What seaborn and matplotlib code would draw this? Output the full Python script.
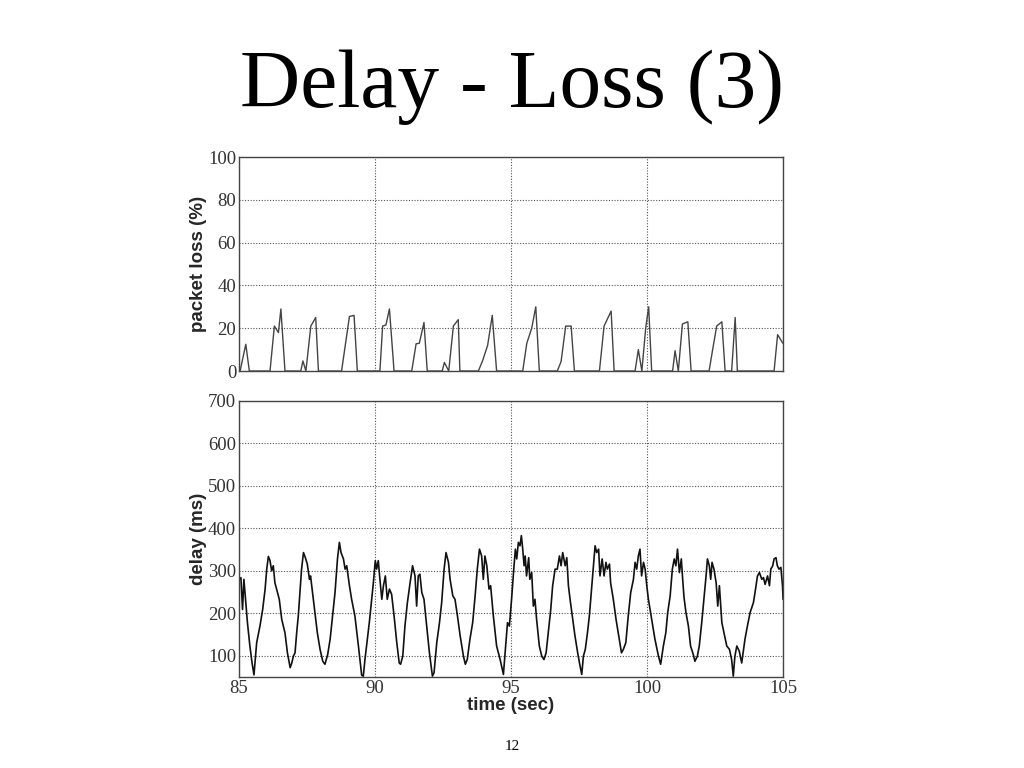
import numpy as np
import pandas as pd
import matplotlib.pyplot as plt
import seaborn as sns


TITLE = "Delay - Loss (3)"
PAGE_NUMBER = "12"

# packet loss (%) per time, one line per loss burst
loss_time = [
    85.00, 85.04, 85.25, 85.38,
    86.14, 86.30, 86.45, 86.54, 86.69,
    87.27, 87.35, 87.46, 87.64, 87.82, 87.92,
    88.77, 89.06, 89.23, 89.35,
    90.18, 90.28, 90.40, 90.53, 90.70,
    91.35, 91.51, 91.63, 91.80, 91.92,
    92.47, 92.55, 92.71, 92.88, 93.06, 93.12,
    93.80, 93.96, 94.14, 94.31, 94.47,
    95.43, 95.58, 95.76, 95.91, 96.04,
    96.70, 96.84, 97.01, 97.21, 97.33,
    98.25, 98.42, 98.68, 98.79,
    99.56, 99.68, 99.81, 99.95, 100.06, 100.17,
    100.94, 101.03, 101.15, 101.30, 101.50, 101.62,
    102.28, 102.42, 102.56, 102.75, 102.87,
    103.11, 103.24, 103.32,
    104.67, 104.80, 104.99,
]
loss_pct = [
    0, 0, 12.5, 0,
    0, 21, 18, 29, 0,
    0, 4.7, 0, 21, 25, 0,
    0, 25.5, 26, 0,
    0, 21, 21.5, 29, 0,
    0, 12.7, 13, 22.7, 0,
    0, 4, 0, 21, 24, 0,
    0, 5, 12, 26, 0,
    0, 13, 20, 30, 0,
    0, 4.4, 21, 21, 0,
    0, 21, 28, 0,
    0, 10, 0, 20, 30, 0,
    0, 9.5, 0, 22, 23, 0,
    0, 10.6, 21, 23, 0,
    0, 25, 0,
    0, 17, 13,
]

# delay (ms) per time
delay_time = [
    85.01, 85.07, 85.13, 85.18, 85.23, 85.31, 85.40, 85.48, 85.55, 85.65,
    85.77, 85.87, 85.96, 86.02, 86.08, 86.14, 86.20, 86.26, 86.32, 86.38,
    86.48, 86.57, 86.69, 86.78, 86.88, 86.94, 87.00, 87.06, 87.12, 87.18,
    87.24, 87.30, 87.37, 87.44, 87.51, 87.59, 87.63, 87.71, 87.79, 87.88,
    87.98, 88.08, 88.16, 88.26, 88.35, 88.44, 88.53, 88.62, 88.69, 88.75,
    88.84, 88.90, 88.96, 89.06, 89.14, 89.26, 89.39, 89.51, 89.57, 89.63,
    89.69, 89.79, 89.88, 89.94, 90.01, 90.06, 90.12, 90.18, 90.25, 90.31,
    90.38, 90.45, 90.53, 90.61, 90.70, 90.80, 90.89, 90.94, 91.02, 91.10,
    91.19, 91.29, 91.38, 91.47, 91.53, 91.59, 91.65, 91.72, 91.80, 91.90,
    92.00, 92.11, 92.17, 92.27, 92.37, 92.45, 92.54, 92.61, 92.70, 92.76,
    92.86, 92.94, 93.03, 93.13, 93.25, 93.32, 93.39, 93.49, 93.59, 93.68,
    93.76, 93.84, 93.92, 93.98, 94.04, 94.11, 94.19, 94.25, 94.35, 94.47,
    94.60, 94.72, 94.82, 94.87, 94.94, 95.02, 95.11, 95.16, 95.21, 95.27,
    95.33, 95.38, 95.43, 95.48, 95.52, 95.57, 95.65, 95.69, 95.76, 95.82,
    95.88, 95.94, 96.04, 96.13, 96.21, 96.29, 96.37, 96.46, 96.53, 96.62,
    96.70, 96.78, 96.84, 96.90, 96.99, 97.05, 97.11, 97.17, 97.27, 97.35,
    97.45, 97.54, 97.60, 97.66, 97.73, 97.81, 97.88, 97.97, 98.03, 98.09,
    98.15, 98.22, 98.27, 98.35, 98.42, 98.49, 98.54, 98.62, 98.66, 98.76,
    98.86, 98.96, 99.06, 99.13, 99.22, 99.31, 99.40, 99.50, 99.56, 99.62,
    99.68, 99.74, 99.80, 99.87, 99.93, 99.99, 100.05, 100.17, 100.29, 100.42,
    100.50, 100.60, 100.69, 100.76, 100.85, 100.93, 101.00, 101.06, 101.12, 101.19,
    101.26, 101.31, 101.36, 101.43, 101.52, 101.60, 101.70, 101.76, 101.85, 101.92,
    102.01, 102.10, 102.17, 102.22, 102.29, 102.34, 102.39, 102.46, 102.54, 102.60,
    102.66, 102.75, 102.83, 102.93, 103.03, 103.11, 103.17, 103.23, 103.30, 103.39,
    103.48, 103.60, 103.69, 103.79, 103.91, 103.97, 104.06, 104.13, 104.22, 104.28,
    104.34, 104.43, 104.50, 104.55, 104.62, 104.67, 104.74, 104.79, 104.85, 104.92,
    104.98, 105.00,
]
delay_ms = [
    280, 284, 209, 280, 241, 178, 123, 83, 55, 131,
    170, 209, 257, 304, 334, 324, 300, 312, 272, 257,
    233, 186, 154, 107, 72, 83, 99, 107, 154, 194,
    249, 304, 343, 331, 316, 280, 288, 245, 202, 154,
    115, 87, 80, 103, 139, 194, 249, 328, 367, 343,
    328, 304, 312, 265, 233, 194, 123, 54, 52, 91,
    123, 178, 233, 272, 324, 304, 324, 280, 233, 265,
    288, 233, 257, 245, 194, 131, 83, 80, 99, 170,
    225, 272, 312, 288, 217, 288, 292, 249, 233, 170,
    107, 52, 60, 131, 178, 225, 304, 343, 320, 280,
    241, 233, 194, 147, 99, 80, 91, 139, 178, 241,
    304, 351, 335, 280, 335, 312, 257, 265, 194, 123,
    91, 56, 139, 178, 170, 233, 312, 351, 328, 367,
    359, 383, 351, 312, 335, 288, 331, 280, 296, 217,
    233, 186, 123, 99, 91, 107, 154, 209, 265, 304,
    304, 335, 312, 343, 312, 331, 265, 233, 186, 147,
    107, 75, 56, 99, 115, 154, 194, 265, 312, 359,
    343, 351, 288, 328, 288, 320, 304, 316, 272, 233,
    186, 147, 107, 115, 131, 194, 249, 280, 320, 304,
    335, 351, 288, 320, 304, 265, 233, 186, 139, 99,
    80, 123, 154, 202, 241, 304, 328, 312, 351, 296,
    328, 280, 237, 202, 170, 123, 103, 87, 99, 123,
    178, 241, 288, 328, 312, 280, 320, 304, 272, 217,
    265, 178, 154, 123, 115, 91, 52, 99, 123, 111,
    83, 139, 170, 202, 225, 249, 288, 296, 280, 284,
    268, 288, 265, 304, 312, 328, 331, 312, 304, 308,
    265, 233,
]

X_TICKS = [85, 90, 95, 100, 105]
LOSS_TICKS = [0, 20, 40, 60, 80, 100]
DELAY_TICKS = [100, 200, 300, 400, 500, 600, 700]


def style_axes(ax):
    ax.grid(True, color="#555555", linestyle=(0, (1, 1.5)), linewidth=0.8)
    ax.set_axisbelow(True)
    for spine in ax.spines.values():
        spine.set_color("#444444")
        spine.set_linewidth(1.0)
        spine.set_visible(True)
    ax.tick_params(length=0, labelsize=13.5, labelcolor="#333333", pad=2)
    for lab in ax.get_xticklabels() + ax.get_yticklabels():
        lab.set_family("Liberation Serif")


def main():
    sns.set_style("white")
    plt.rcParams["font.family"] = ["Liberation Serif", "DejaVu Serif"]

    loss_df = pd.DataFrame({"time": loss_time, "loss": loss_pct})
    delay_df = pd.DataFrame({"time": delay_time, "delay": delay_ms})

    fig = plt.figure(figsize=(10.24, 7.68), dpi=100)
    ax_top = fig.add_axes([0.2334, 0.5169, 0.5313, 0.2786])
    ax_bot = fig.add_axes([0.2334, 0.1185, 0.5313, 0.3594])

    sns.lineplot(data=loss_df, x="time", y="loss", ax=ax_top,
                 color="#444444", linewidth=1.0, sort=False)
    ax_top.set_xlim(85, 105)
    ax_top.set_ylim(0, 100)
    ax_top.set_xticks(X_TICKS)
    ax_top.set_xticklabels([])
    ax_top.set_yticks(LOSS_TICKS)
    ax_top.set_xlabel("")
    ax_top.set_ylabel("packet loss (%)", family="Liberation Sans",
                      fontweight="bold", fontsize=13.5, labelpad=1)
    style_axes(ax_top)

    sns.lineplot(data=delay_df, x="time", y="delay", ax=ax_bot,
                 color="#111111", linewidth=1.2, sort=False)
    ax_bot.set_xlim(85, 105)
    ax_bot.set_ylim(50, 700)
    ax_bot.set_xticks(X_TICKS)
    ax_bot.set_yticks(DELAY_TICKS)
    ax_bot.set_xlabel("time (sec)", family="Liberation Sans",
                      fontweight="bold", fontsize=13.5, labelpad=0)
    ax_bot.set_ylabel("delay (ms)", family="Liberation Sans",
                      fontweight="bold", fontsize=13.5, labelpad=1)
    style_axes(ax_bot)

    fig.text(0.5, 0.886, TITLE, ha="center", va="center",
             fontsize=60, family="Liberation Serif", color="black")
    fig.text(0.5, 0.028, PAGE_NUMBER, ha="center", va="center",
             fontsize=11, family="Liberation Serif", color="black")

    fig.savefig("out.png", dpi=100)
    plt.close(fig)


if __name__ == "__main__":
    main()
